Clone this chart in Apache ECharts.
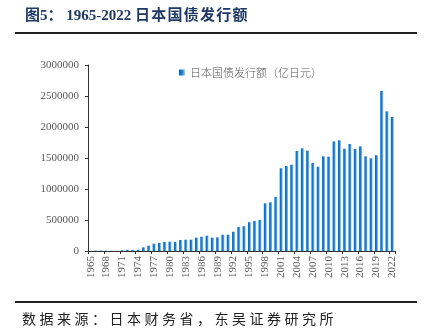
<!DOCTYPE html>
<html><head><meta charset="utf-8">
<script src="https://cdn.jsdelivr.net/npm/echarts@6/dist/echarts.min.js"></script>
<style>html,body{margin:0;padding:0;background:#fff}#c{width:425px;height:331px}</style>
</head><body><div id="c"></div>
<script>
var years = ['1965','1966','1967','1968','1969','1970','1971','1972','1973','1974','1975','1976','1977','1978','1979','1980','1981','1982','1983','1984','1985','1986','1987','1988','1989','1990','1991','1992','1993','1994','1995','1996','1997','1998','1999','2000','2001','2002','2003','2004','2005','2006','2007','2008','2009','2010','2011','2012','2013','2014','2015','2016','2017','2018','2019','2020','2021','2022'];
var issuance = [1972,7300,7094,4621,4126,3472,12000,19500,18000,21600,58000,86000,118000,129000,145000,150000,145000,177000,182000,182000,215000,231000,247000,215000,220000,263000,263000,311000,387000,400000,465000,484000,500000,769000,785000,871000,1334000,1371000,1392000,1613000,1656000,1618000,1419000,1360000,1527000,1521000,1769000,1785000,1650000,1726000,1645000,1688000,1527000,1495000,1544000,2581000,2253000,2161000];
var seriesName = '日本国债发行额（亿日元）';
var titleText = '图5： 1965-2022 日\u200A本\u200A国\u200A债\u200A发\u200A行\u200A额';
var sourceText = '数\u2005据\u2005来\u2005源\u2005：\u2005日\u2005本\u2005财\u2005务\u2005省\u2005，\u2005东\u2005吴\u2005证\u2005券\u2005研\u2005究\u2005所';

var chart = echarts.init(document.getElementById('c'), null, {renderer:'canvas'});
var serif = '"Liberation Serif","Times New Roman",serif';
chart.setOption({
  backgroundColor:'#fff',
  animation:false,
  grid:{left:88,right:30,top:65,bottom:80,containLabel:false},
  legend:{
    left:174, top:62, icon:'rect', itemWidth:6, itemHeight:6, itemGap:4,
    textStyle:{fontSize:11,color:'#595959',fontFamily:'"Noto Sans CJK SC"',fontWeight:300},
    data:[seriesName]
  },
  xAxis:{
    type:'category', data:years, boundaryGap:true,
    axisLine:{lineStyle:{color:'#333',width:1}},
    axisTick:{show:true,length:3,interval:2,lineStyle:{color:'#333'}},
    axisLabel:{interval:2,rotate:90,margin:5,fontSize:11,color:'#595959',fontFamily:serif}
  },
  yAxis:{
    type:'value', min:0, max:3000000, interval:500000,
    axisLine:{show:true,lineStyle:{color:'#333',width:1}},
    axisTick:{show:true,length:3,lineStyle:{color:'#333'}},
    splitLine:{show:false},
    axisLabel:{margin:9,fontSize:11,color:'#595959',fontFamily:serif,formatter:function(v){return String(v);}}
  },
  series:[{
    name:seriesName, type:'bar', data:issuance, barWidth:3,
    itemStyle:{color:new echarts.graphic.LinearGradient(0,0,1,0,[{offset:0,color:'#0066c8'},{offset:0.55,color:'#1a80d8'},{offset:1,color:'#a8d0f2'}])}
  }],
  graphic:[
    {type:'text',left:25,top:9,style:{text:titleText,fontSize:15,fontWeight:'bold',fill:'#1f3864',fontFamily:'"Liberation Serif","Noto Sans CJK SC"'}},
    {type:'line',shape:{x1:15,y1:33,x2:417,y2:33},style:{stroke:'#222',lineWidth:2}},
    {type:'line',shape:{x1:15,y1:302,x2:417,y2:302},style:{stroke:'#222',lineWidth:2}},
    {type:'text',left:22,top:312,style:{text:sourceText,fontSize:14,fill:'#222',fontFamily:'"Noto Sans CJK SC"'}}
  ]
});
</script></body></html>
